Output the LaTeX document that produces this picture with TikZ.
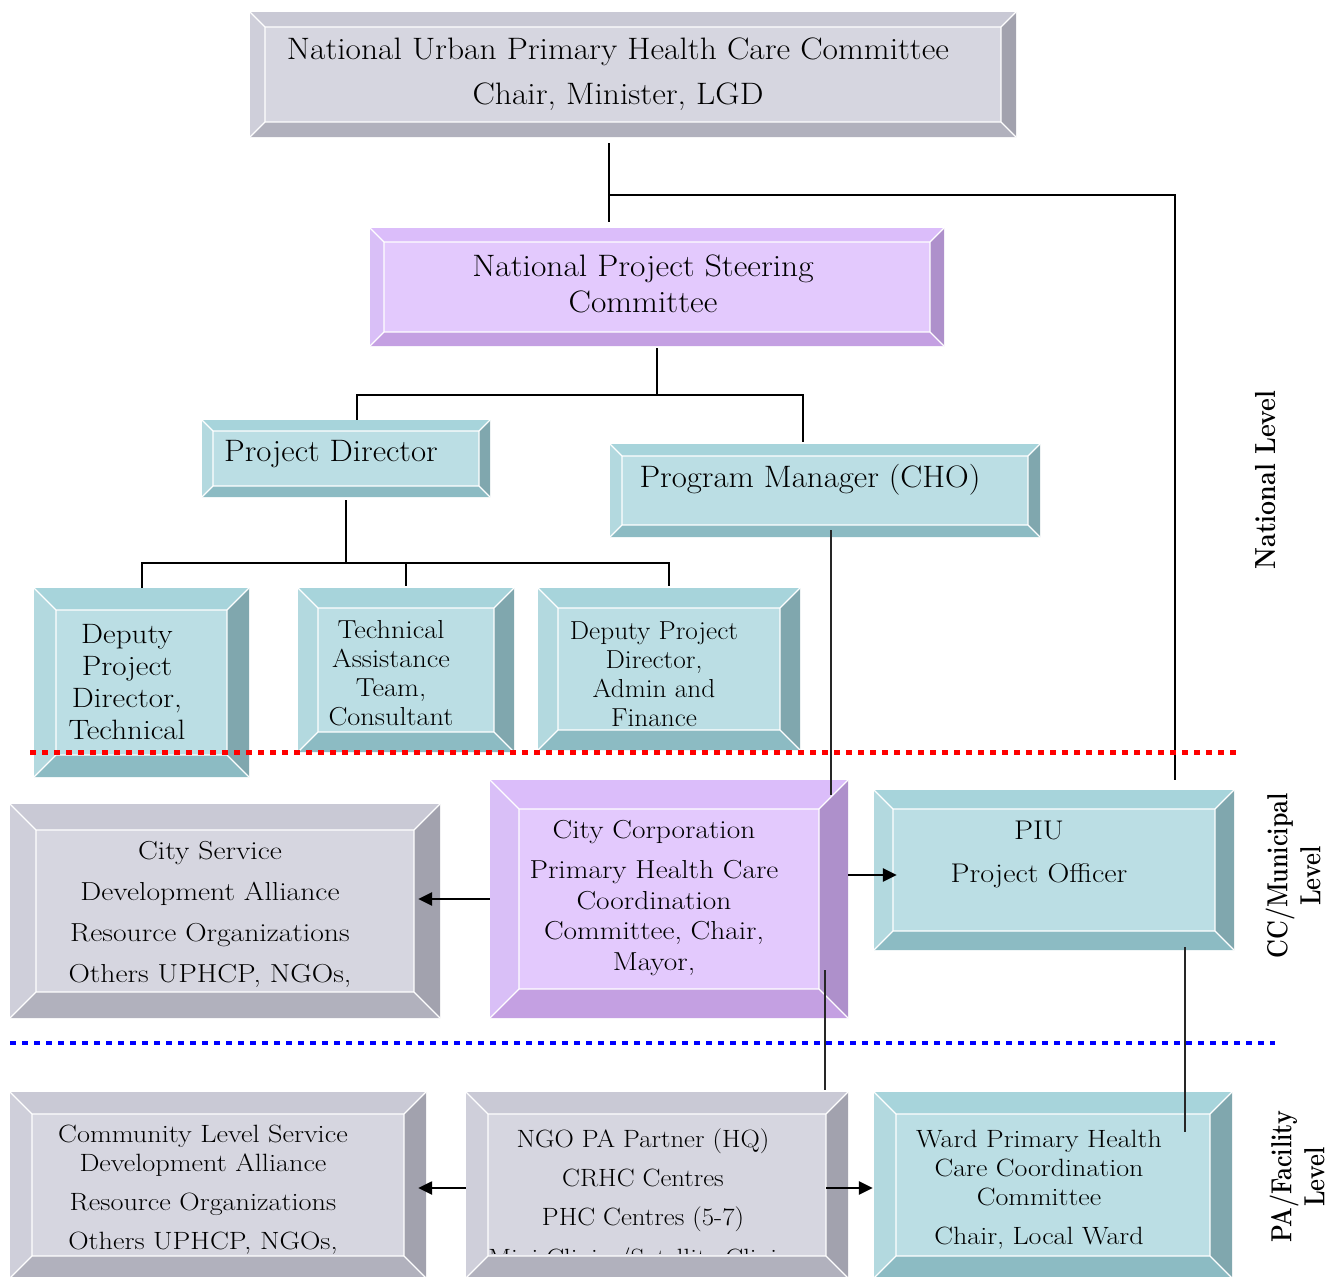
\documentclass[tikz,border=0pt]{standalone}
\usepackage{fontspec}
\setmainfont{Latin Modern Roman}
\usetikzlibrary{calc,arrows.meta}
\definecolor{grayF}{HTML}{D6D6E0}
\definecolor{grayT}{HTML}{C9C9D5}
\definecolor{grayL}{HTML}{CFCFDA}
\definecolor{grayR}{HTML}{A2A2AE}
\definecolor{grayB}{HTML}{B1B1BD}
\definecolor{purpF}{HTML}{E3C9FD}
\definecolor{purpT}{HTML}{DBBDFA}
\definecolor{purpL}{HTML}{D9BFF7}
\definecolor{purpR}{HTML}{AE90CB}
\definecolor{purpB}{HTML}{C4A0E2}
\definecolor{tealF}{HTML}{BBDEE4}
\definecolor{tealT}{HTML}{A7D4DB}
\definecolor{tealL}{HTML}{B3D9DF}
\definecolor{tealR}{HTML}{80A7AE}
\definecolor{tealB}{HTML}{8CBBC3}
\newcommand{\bevelbox}[7]{%
 \pgfmathsetmacro\bxa{#2+#6}\pgfmathsetmacro\bya{#3+#6}%
 \pgfmathsetmacro\bxb{#4-#6}\pgfmathsetmacro\byb{#5-#6}%
 \fill[#7F] (\bxa,\bya) rectangle (\bxb,\byb);
 \fill[#7T] (#2,#3) -- (#4,#3) -- (\bxb,\bya) -- (\bxa,\bya) -- cycle;
 \fill[#7L] (#2,#3) -- (\bxa,\bya) -- (\bxa,\byb) -- (#2,#5) -- cycle;
 \fill[#7R] (#4,#3) -- (#4,#5) -- (\bxb,\byb) -- (\bxb,\bya) -- cycle;
 \fill[#7B] (#2,#5) -- (\bxa,\byb) -- (\bxb,\byb) -- (#4,#5) -- cycle;
 \draw[white,line width=1.2pt] (\bxa,\bya) rectangle (\bxb,\byb)
   (#2,#3) -- (\bxa,\bya) (#4,#3) -- (\bxb,\bya)
   (#2,#5) -- (\bxa,\byb) (#4,#5) -- (\bxb,\byb);
 \node[inner sep=0pt,minimum width={(#4-#2)*1pt},minimum height={(#5-#3)*1pt}] (#1) at ({(#2+#4)/2},{(#3+#5)/2}) {};
}
\newcommand{\bxfont}[3]{\fontsize{#1}{#2}\selectfont\addfontfeature{FakeStretch=#3}}
\tikzset{
  txt/.style={inner sep=0pt,align=center,text=black},
  conn/.style={draw=black,line width=1.5pt},
  thinconn/.style={draw=black!85,line width=1.1pt},
  arr/.style={draw=black,line width=2.5pt,-{Triangle[length=14pt,width=13pt]}},
  lvl/.style={inner sep=0pt,align=center,rotate=90,font=\fontsize{29}{33}\selectfont\bfseries\addfontfeature{FakeStretch=#1}},
  lvl/.default=0.8
}
\begin{document}
\begin{tikzpicture}[x=1pt,y=-1pt]
\useasboundingbox (0,0) rectangle (1336,1277);
\fill[white] (0,0) rectangle (1336,1277);

% boxes
\bevelbox{top}{250}{12}{1016}{137}{15}{gray}
\bevelbox{npsc}{370}{228}{944}{346}{14}{purp}
\bevelbox{pd}{202}{420}{490}{497}{11}{teal}
\bevelbox{pm}{610}{444}{1040}{537}{12}{teal}
\bevelbox{dpt}{34}{588}{249}{777}{22}{teal}
\bevelbox{ta}{298}{588}{514}{752}{20}{teal}
\bevelbox{dpa}{538}{588}{800}{750}{20}{teal}
\bevelbox{csd}{10}{804}{440}{1018}{26}{gray}
\bevelbox{ccorp}{490}{780}{848}{1018}{29}{purp}
\bevelbox{piu}{874}{790}{1234}{950}{19}{teal}
\bevelbox{com}{10}{1092}{426}{1278}{22}{gray}
\bevelbox{ngo}{466}{1092}{848}{1278}{22}{gray}
\bevelbox{ward}{874}{1092}{1232}{1278}{22}{teal}

% texts
\node[txt,font=\bxfont{31}{45}{1.08}] (ttop) at (618,74) {National Urban Primary Health Care Committee\\Chair, Minister, LGD};
\node[txt,font=\bxfont{31}{36}{1.08}] (tnpsc) at (643,284) {National Project Steering\\Committee};
\node[txt,font=\bxfont{31}{36}{1.06}] (tpd) at (331,454) {Project Director};
\node[txt,font=\bxfont{31}{36}{1.06}] (tpm) at (810,480) {Program Manager (CHO)};
\node[txt,font=\bxfont{28}{32}{1.11}] (tdpt) at (127,682) {Deputy\\Project\\Director,\\Technical};
\node[txt,font=\bxfont{26}{29}{1.09}] (tta) at (391,673) {Technical\\Assistance\\Team,\\Consultant};
\node[txt,font=\bxfont{26}{29}{1.05}] (tdpa) at (654,674) {Deputy Project\\Director,\\Admin and\\Finance};
\node[txt,font=\bxfont{26}{41}{1.14}] (tcsd) at (210,914) {City Service\\Development Alliance\\Resource Organizations\\Others UPHCP, NGOs,};
\node[txt,font=\bxfont{26}{30.5}{1.13}] (tcc) at (654,898) {City Corporation\\[10pt]Primary Health Care\\Coordination\\Committee, Chair,\\Mayor,};
\node[txt,font=\bxfont{27}{43}{1.12}] (tpiu) at (1039,855) {PIU\\Project Officer};
\node[txt,font=\bxfont{25}{29}{1.13}] (tcom) at (203,1190) {Community Level Service\\Development Alliance\\[10pt]Resource Organizations\\[10pt]Others UPHCP, NGOs,};
\node[txt,font=\bxfont{25}{39}{1.07}] (tngo) at (643,1180) {NGO PA Partner (HQ)\\CRHC Centres\\PHC Centres (5-7)};
\begin{scope}
\clip (488,1114) rectangle (826,1253);
\node[txt,font=\bxfont{25}{29}{1.07}] (tngo2) at (643,1260) {Mini Clinics/Satellite Clinics};
\end{scope}
\node[txt,font=\bxfont{25}{29}{1.12}] (tward) at (1039,1190) {Ward Primary Health\\Care Coordination\\Committee\\[10pt]Chair, Local Ward};

% level labels
\node[lvl=0.86] (lnat) at (1266,480) {National Level};
\node[lvl] (lcc) at (1293,876) {CC/Municipal\\Level};
\node[lvl] (lpa) at (1297,1177) {PA/Facility\\Level};

% helper coordinates
\coordinate (c1) at (609,0);
\coordinate (j1) at (609,195);
\coordinate (c2) at (1175,0);
\coordinate (j2) at (657,395);
\coordinate (c3) at (357,0);
\coordinate (c4) at (803,0);
\coordinate (j3) at (346,563);
\coordinate (c5) at (142,0);
\coordinate (c6) at (406,0);
\coordinate (c7) at (669,0);
\coordinate (c8) at (831,0);
\coordinate (c9) at (825,0);
\coordinate (c10) at (1185,0);
\coordinate (a1) at (0,899);
\coordinate (a2) at (0,875);
\coordinate (a3) at (0,1188);

% connectors
\draw[conn] ([yshift=-6pt]top.south -| c1) -- ([yshift=6pt]npsc.north -| c1);
\draw[conn] (j1) -- (c2 |- j1) -- ([yshift=10pt]piu.north -| c2);
\draw[conn] ([yshift=-2pt]npsc.south -| j2) -- (j2);
\draw[conn] (pd.north -| c3) -- (c3 |- j2) -- (c4 |- j2) -- ([yshift=2pt]pm.north -| c4);
\draw[conn] ([yshift=-3pt]pd.south -| j3) -- (j3);
\draw[conn] (dpt.north -| c5) -- (c5 |- j3) -- (c7 |- j3) -- ([yshift=2pt]dpa.north -| c7);
\draw[conn] (j3 -| c6) -- ([yshift=2pt]ta.north -| c6);
\draw[thinconn] ([yshift=7pt]pm.south -| c8) -- ([yshift=-15pt]ccorp.north -| c8);
\draw[thinconn] ([yshift=48pt]ccorp.south -| c9) -- ([yshift=2pt]ngo.north -| c9);
\draw[thinconn] ([yshift=3pt]piu.south -| c10) -- ([yshift=-40pt]ward.north -| c10);

% arrows
\draw[arr] (ccorp.west |- a1) -- ([xshift=-22pt]csd.east |- a1);
\draw[arr] (ccorp.east |- a2) -- ([xshift=23pt]piu.west |- a2);
\draw[arr] (ngo.west |- a3) -- ([xshift=-8pt]com.east |- a3);
\draw[arr] ([xshift=-22pt]ngo.east |- a3) -- ([xshift=-1pt]ward.west |- a3);

% level separators
\coordinate (r1) at (30,752);
\coordinate (r2) at (1237,752);
\coordinate (b1) at (10,1043);
\coordinate (b2) at (1275,1043);
\draw[red,line width=5pt,dash pattern=on 6pt off 6pt] (r1) -- (r2);
\draw[blue,line width=4.5pt,dash pattern=on 6pt off 6pt] (b1) -- (b2);
\end{tikzpicture}
\end{document}
